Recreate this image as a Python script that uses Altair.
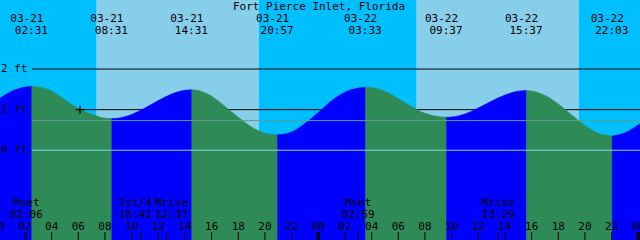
import altair as alt
import pandas as pd

# ---------------- data ----------------
title_text = "Fort Pierce Inlet, Florida"

# hourly tide level (ft), hour 0 = 03-21 00:00
curve_hours = list(range(48)) + [48.15]
curve_levels = [1.25, 1.45, 1.555, 1.558, 1.46, 1.24, 1.03, 0.89, 0.79, 0.791,
                0.88, 1.04, 1.223, 1.384, 1.477, 1.47, 1.33, 1.08, 0.81, 0.57,
                0.42, 0.381, 0.45, 0.66, 0.93, 1.22, 1.43, 1.53, 1.54, 1.45,
                1.27, 1.07, 0.91, 0.83, 0.817, 0.893, 1.04, 1.21, 1.36, 1.455,
                1.46, 1.35, 1.14, 0.87, 0.61, 0.42, 0.352, 0.43, 0.66]

# high / low tides
ext_hours = [2.517, 8.517, 14.517, 20.95, 27.55, 33.617, 39.617, 46.05]
ext_levels = [1.57, 0.78, 1.49, 0.38, 1.55, 0.81, 1.47, 0.35]
ext_dates = ["03-21", "03-21", "03-21", "03-21", "03-22", "03-22", "03-22", "03-22"]
ext_times = ["02:31", "08:31", "14:31", "20:57", "03:33", "09:37", "15:37", "22:03"]

# sunrise / sunset
sky_starts = [0, 7.38, 19.53, 31.38, 43.53]
sky_ends = [7.38, 19.53, 31.38, 43.53, 48.3]
sky_kinds = ["night", "day", "night", "day", "night"]

# moon events
moon_hours = [2.1, 10.683, 12.617, 26.983, 37.483]
moon_names = ["Mset", "1st/4", "Mrise", "Mset", "Mrise"]
moon_times = ["02:06", "10:41", "12:37", "02:59", "13:29"]

tick_hours = list(range(0, 49, 2))
tick_labels = ["%02d" % (h % 24) for h in tick_hours]

grid_levels = [2, 1]
grid_labels = ["2 ft", "1 ft", "0 ft"]
label_levels = [2, 1, 0]
zero_level = [0]
mean_level = [0.73]

mark_hour = [6.13]
mark_level = [1.0]

# ---------------- scales ----------------
FONT = "DejaVu Sans Mono"
FS = 11
ymin, ymax = -2.21, 3.70
xs = alt.Scale(domain=[0, 48], range=[-1.7, 638.3])
ys = alt.Scale(domain=[ymin, ymax], nice=False, zero=False)
RISING, FALLING = "#0000FF", "#2E8B57"


def X(f):
    return alt.X(f, scale=xs, axis=None)


def Y(f):
    return alt.Y(f, scale=ys, axis=None)


# ---------------- tables ----------------
pts = sorted(zip(curve_hours + ext_hours, curve_levels + ext_levels))
bounds = [0] + ext_hours + [curve_hours[-1]]
rows = []
for i in range(len(bounds) - 1):
    a, b = bounds[i], bounds[i + 1]
    for h, l in pts:
        if a - 1e-9 <= h <= b + 1e-9:
            rows.append({"hour": h, "level": l, "seg": i})
water_df = pd.DataFrame(rows)

ext_df = pd.DataFrame({"hour": ext_hours, "date": ext_dates, "time": ext_times})
moon_df = pd.DataFrame({"hour": moon_hours, "name": moon_names,
                        "time": moon_times, "idx": list(range(len(moon_hours)))})
tick_df = pd.DataFrame({"hour": tick_hours, "label": tick_labels,
                        "midnight": [h % 24 == 0 for h in tick_hours]})

# ---------------- layers ----------------
sky_layers = []
for s, e, k in zip(sky_starts, sky_ends, sky_kinds):
    sky_layers.append(
        alt.Chart(pd.DataFrame({"start": [s], "end": [e]})).mark_rect(
            color="#00BFFF" if k == "night" else "#87CEEB").encode(
            x=X("start:Q"), x2="end:Q", y=alt.value(0), y2=alt.value(240)))

black_lines = alt.Chart(pd.DataFrame({"level": grid_levels})).mark_rule(
    color="black", strokeWidth=1).encode(
    x=alt.value(32), x2=alt.value(640), y=Y("level:Q"))

water_layers = []
for i in range(len(bounds) - 1):
    col = RISING if i % 2 == 0 else FALLING
    water_layers.append(
        alt.Chart(water_df).transform_filter("datum.seg == %d" % i).mark_area(
            interpolate="monotone", color=col, stroke=col, strokeWidth=0.6).encode(
            x=X("hour:Q"), y=Y("level:Q"), y2=alt.datum(ymin)))

zero_line = alt.Chart(pd.DataFrame({"level": zero_level})).mark_rule(
    color="#80D4E4", strokeWidth=1).encode(
    x=alt.value(32), x2=alt.value(640), y=Y("level:Q"))

mean_line = alt.Chart(pd.DataFrame({"level": mean_level})).mark_rule(
    color="#5FA08C", strokeWidth=1).encode(
    x=alt.value(32), x2=alt.value(640), y=Y("level:Q"))

marker = alt.Chart(pd.DataFrame({"hour": mark_hour, "level": mark_level})).mark_point(
    shape="M-1,0H1M0,-1V1", filled=False, color="black", strokeWidth=1.2, size=70,
    opacity=1).encode(x=X("hour:Q"), y=Y("level:Q"))

ylabels = alt.Chart(pd.DataFrame({"level": label_levels, "label": grid_labels})).mark_text(
    font=FONT, fontSize=FS, align="left", baseline="middle", color="black").encode(
    x=alt.value(1), y=Y("level:Q"), text="label:N")

title = alt.Chart(pd.DataFrame({"t": [title_text]})).mark_text(
    font=FONT, fontSize=FS, align="center", baseline="alphabetic", color="black").encode(
    x=alt.value(319), y=alt.value(9.5), text="t:N")

ext_date = alt.Chart(ext_df).mark_text(
    font=FONT, fontSize=FS, align="center", baseline="alphabetic", color="black", dx=-5).encode(
    x=X("hour:Q"), y=alt.value(22), text="date:N")
ext_time = alt.Chart(ext_df).mark_text(
    font=FONT, fontSize=FS, align="center", baseline="alphabetic", color="black", dx=-0.5).encode(
    x=X("hour:Q"), y=alt.value(33.5), text="time:N")

ticks_thin = alt.Chart(tick_df).transform_filter("!datum.midnight").mark_rule(
    color="black", strokeWidth=1).encode(x=X("hour:Q"), y=alt.value(232), y2=alt.value(240))
ticks_thick = alt.Chart(tick_df).transform_filter("datum.midnight").mark_rule(
    color="black", strokeWidth=3).encode(x=X("hour:Q"), y=alt.value(232), y2=alt.value(240))
moon_ticks = alt.Chart(moon_df).mark_rule(color="black", strokeWidth=1).encode(
    x=X("hour:Q"), y=alt.value(232), y2=alt.value(240))

hour_text = alt.Chart(tick_df).mark_text(
    font=FONT, fontSize=FS, align="center", baseline="alphabetic", color="black").encode(
    x=X("hour:Q"), y=alt.value(230), text="label:N")


def moon_layer(filt, dx):
    base = alt.Chart(moon_df).transform_filter(filt)
    n = base.mark_text(font=FONT, fontSize=FS, align="center", baseline="alphabetic",
                       color="black", dx=dx).encode(x=X("hour:Q"), y=alt.value(205.5), text="name:N")
    t = base.mark_text(font=FONT, fontSize=FS, align="center", baseline="alphabetic",
                       color="black", dx=dx).encode(x=X("hour:Q"), y=alt.value(218), text="time:N")
    return n + t


moon_mid = moon_layer("datum.idx != 1 && datum.idx != 2", 0)
moon_left = moon_layer("datum.idx == 1", -5.5)
moon_right = moon_layer("datum.idx == 2", 5)

chart = alt.layer(
    *sky_layers, black_lines, *water_layers, zero_line, mean_line, marker, ylabels, title,
    ext_date, ext_time, ticks_thin, ticks_thick, moon_ticks, hour_text,
    moon_mid, moon_left, moon_right,
).properties(
    width=640, height=240, autosize=alt.AutoSizeParams(type="none"), padding=0,
).configure_view(stroke=None)

chart.save("out.html", embed_options={"renderer": "svg", "actions": False})
